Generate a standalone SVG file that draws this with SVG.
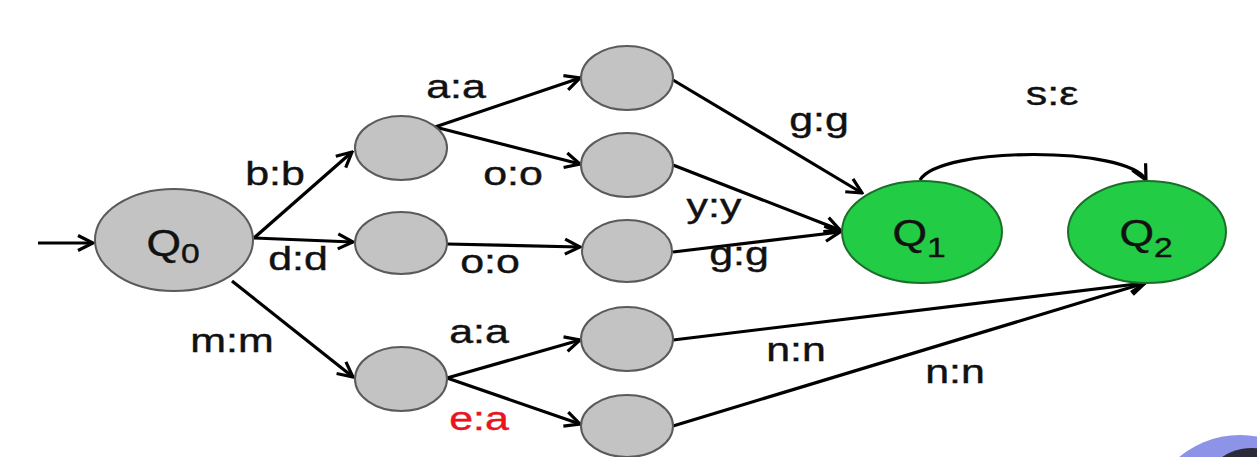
<svg xmlns="http://www.w3.org/2000/svg" width="1257" height="457" viewBox="0 0 1257 457">
<defs>
<style>
.n{fill:#c3c3c3;stroke:#5a5a5a;stroke-width:2}
.f{fill:#22cc44;stroke:#1c6e2c;stroke-width:2}
.e{fill:none;stroke:#000;stroke-width:3.2;marker-end:url(#ah)}
.t{font-family:"Liberation Sans",Arial,sans-serif;font-size:33px;fill:#111;stroke:#111;stroke-width:0.4;text-anchor:middle}
.q{font-family:"Liberation Sans",Arial,sans-serif;font-size:37px;fill:#111;stroke:#111;stroke-width:0.4;text-anchor:middle}
.red{fill:#e8141e;stroke:#e8141e}
</style>
<marker id="ah" viewBox="-18 -10 20 20" refX="0" refY="0" markerWidth="20" markerHeight="20" markerUnits="userSpaceOnUse" orient="auto">
<path d="M-15,-7.5 L0,0 L-15,7.5" fill="none" stroke="#000" stroke-width="3.2"/>
</marker>
</defs>
<rect width="1257" height="457" fill="#fff"/>
<g id="connectors">
<line class="e" x1="38" y1="243" x2="93" y2="243"/>
<line class="e" x1="254" y1="238" x2="352" y2="152"/>
<line class="e" x1="254" y1="238" x2="353" y2="242"/>
<line class="e" x1="232" y1="281" x2="353" y2="377"/>
<line class="e" x1="435" y1="127" x2="580" y2="78"/>
<line class="e" x1="435" y1="127" x2="580" y2="164"/>
<line class="e" x1="447" y1="244" x2="580" y2="247"/>
<line class="e" x1="447" y1="378" x2="580" y2="340"/>
<line class="e" x1="447" y1="378" x2="580" y2="424"/>
<line class="e" x1="673" y1="80" x2="862" y2="193"/>
<line class="e" x1="673" y1="165" x2="840" y2="230"/>
<line class="e" x1="673" y1="252" x2="840" y2="232"/>
<line class="e" x1="673" y1="340" x2="1145" y2="283"/>
<line class="e" x1="673" y1="426" x2="1145" y2="283"/>
<path class="e" d="M920,180 C940,146 1128,146 1146,180"/>
</g>
<g id="labels">
<text class="t" transform="translate(275,185) scale(1.3,1)">b:b</text>
<text class="t" transform="translate(298,270) scale(1.3,1)">d:d</text>
<text class="t" transform="translate(232,352) scale(1.3,1)">m:m</text>
<text class="t" transform="translate(456,98) scale(1.3,1)">a:a</text>
<text class="t" transform="translate(513,185) scale(1.3,1)">o:o</text>
<text class="t" transform="translate(490,273) scale(1.3,1)">o:o</text>
<text class="t" transform="translate(819,131) scale(1.3,1)">g:g</text>
<text class="t" transform="translate(714,217) scale(1.3,1)">y:y</text>
<text class="t" transform="translate(739,265) scale(1.3,1)">g:g</text>
<text class="t" transform="translate(1052,105) scale(1.3,1)">s:ε</text>
<text class="t" transform="translate(479,343) scale(1.3,1)">a:a</text>
<text class="t red" transform="translate(479,430) scale(1.3,1)">e:a</text>
<text class="t" transform="translate(796,361) scale(1.3,1)">n:n</text>
<text class="t" transform="translate(955,383) scale(1.3,1)">n:n</text>
</g>
<g id="Q0">
<ellipse class="n" cx="174" cy="240" rx="79" ry="51"/>
<text class="q" transform="translate(173,256) scale(1.2,1)">Q<tspan font-size="28" dy="7">0</tspan></text>
</g>
<g id="s_b"><ellipse class="n" cx="401" cy="148" rx="46" ry="32"/></g>
<g id="s_d"><ellipse class="n" cx="401" cy="243" rx="46" ry="31"/></g>
<g id="s_m"><ellipse class="n" cx="401" cy="379" rx="46" ry="32"/></g>
<g id="s_ba"><ellipse class="n" cx="627" cy="78" rx="46" ry="32"/></g>
<g id="s_bo"><ellipse class="n" cx="627" cy="165" rx="46" ry="32"/></g>
<g id="s_do"><ellipse class="n" cx="627" cy="251" rx="45" ry="31"/></g>
<g id="s_ma"><ellipse class="n" cx="627" cy="339" rx="46" ry="32"/></g>
<g id="s_me"><ellipse class="n" cx="627" cy="426" rx="46" ry="31"/></g>
<g id="Q1">
<ellipse class="f" cx="922" cy="232" rx="80" ry="51"/>
<text class="q" transform="translate(919,246) scale(1.2,1)">Q<tspan font-size="28" dy="11">1</tspan></text>
</g>
<g id="Q2">
<ellipse class="f" cx="1147" cy="232" rx="79" ry="51"/>
<text class="q" transform="translate(1146,246) scale(1.2,1)">Q<tspan font-size="28" dy="11">2</tspan></text>
</g>
<g id="overlay">
<circle cx="1240" cy="530" r="95" fill="#8d93e6"/>
<circle cx="1252" cy="502" r="54" fill="#2a2a38"/>
</g>
</svg>
